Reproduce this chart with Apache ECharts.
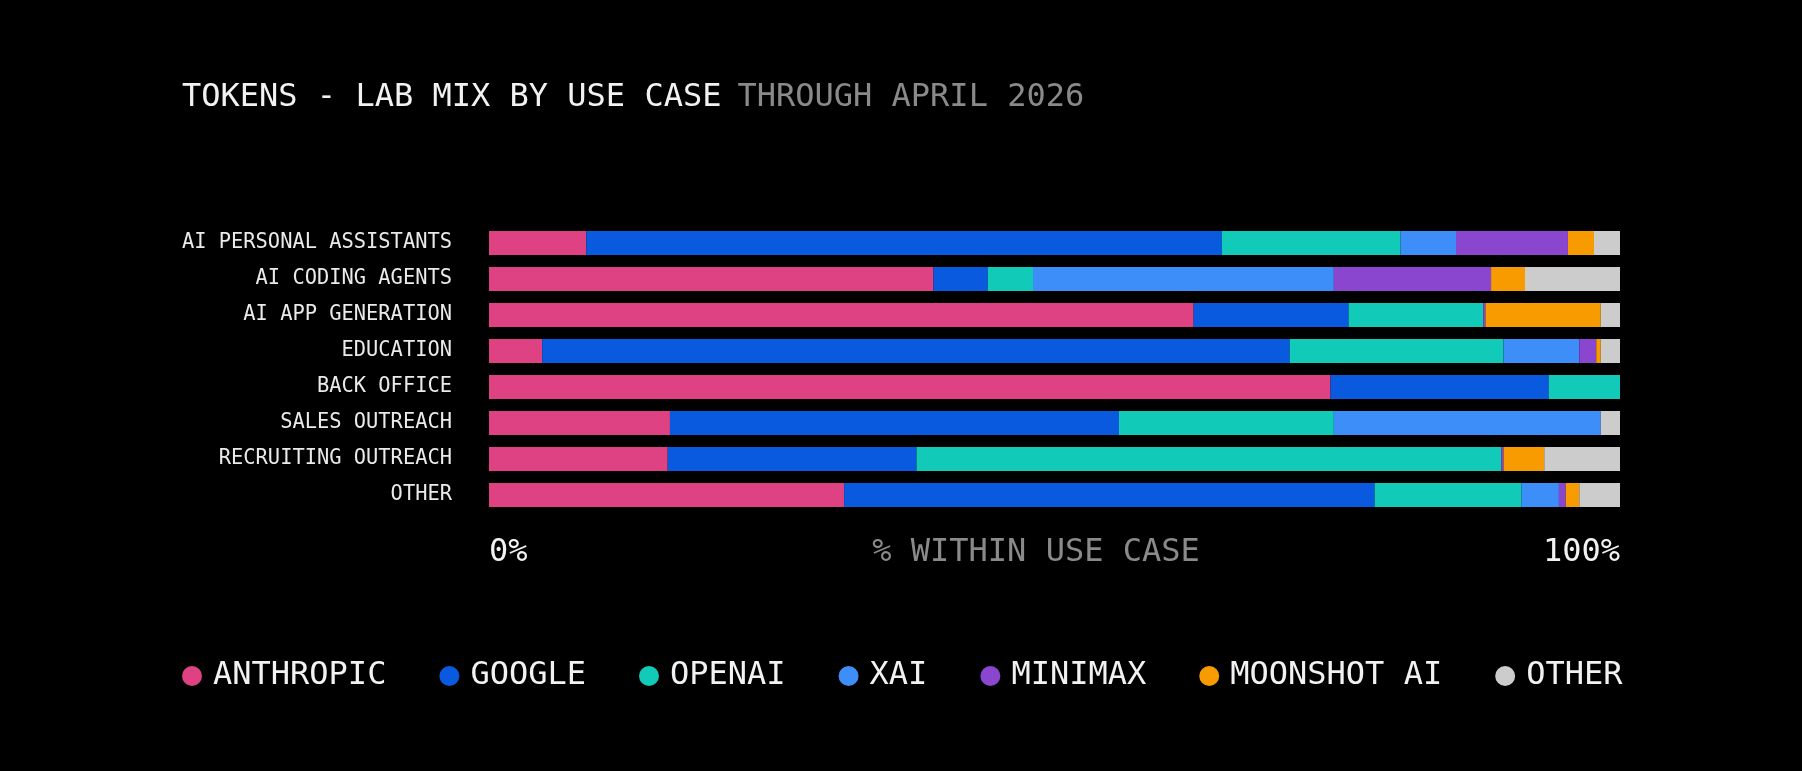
<!DOCTYPE html>
<html>
<head>
<meta charset="utf-8">
<script src="https://cdn.jsdelivr.net/npm/echarts@6/dist/echarts.min.js"></script>
<style>
  html, body { margin: 0; padding: 0; background: #000; }
  #chart { width: 1802px; height: 771px; }
</style>
</head>
<body>
<div id="chart"></div>
<script>
// use cases, top to bottom
const useCases = ['AI PERSONAL ASSISTANTS', 'AI CODING AGENTS', 'AI APP GENERATION', 'EDUCATION',
  'BACK OFFICE', 'SALES OUTREACH', 'RECRUITING OUTREACH', 'OTHER']

// % of tokens within each use case
const anthropic = [8.6, 39.3, 62.3, 4.7, 74.4, 16.0, 15.8, 31.4]
const google = [56.2, 4.8, 13.7, 66.1, 19.3, 39.7, 22.0, 46.9]
const openai = [15.8, 4.0, 11.9, 18.9, 6.3, 19.0, 51.7, 13.0]
const xai = [4.9, 26.6, 0, 6.7, 0, 23.6, 0, 3.3]
const minimax = [9.9, 13.9, 0.2, 1.5, 0, 0, 0.2, 0.6]
const moonshot = [2.3, 3.0, 10.2, 0.4, 0, 0, 3.6, 1.2]
const other = [2.3, 8.4, 1.7, 1.7, 0, 1.7, 6.7, 3.6]

const labs = ['ANTHROPIC', 'GOOGLE', 'OPENAI', 'XAI', 'MINIMAX', 'MOONSHOT AI', 'OTHER']
const labValues = [anthropic, google, openai, xai, minimax, moonshot, other]
const labColors = ['#DE4283', '#0A5AE0', '#12CAB8', '#3E8EFA', '#8A46CF', '#F89B00', '#CCCCCC']

const xTicks = ['0%', '100%']

const FONT = '"DejaVu Sans Mono", "Liberation Mono", monospace'

let chart = echarts.init(document.getElementById('chart'))

chart.setOption({
  backgroundColor: '#000',
  animation: false,
  textStyle: { fontFamily: FONT },
  title: {
    left: 182,
    top: 82,
    padding: 0,
    text: '{a|TOKENS - LAB MIX BY USE CASE}{b|THROUGH APRIL 2026}',
    textStyle: {
      fontWeight: 'normal',
      rich: {
        a: { color: '#F2F2F2', fontSize: 32, fontFamily: FONT, fontWeight: 'normal' },
        b: { color: '#8A8A8A', fontSize: 32, fontFamily: FONT, fontWeight: 'normal', padding: [0, 0, 0, 16] }
      }
    }
  },
  // axis caption, centred between the 0% and 100% labels
  graphic: [{
    type: 'text',
    x: 1036,
    y: 553,
    style: {
      text: '% WITHIN USE CASE',
      fill: '#8A8A8A',
      font: '32px ' + FONT,
      textAlign: 'center',
      textVerticalAlign: 'middle'
    }
  }],
  legend: {
    left: 182,
    top: 659,
    padding: 0,
    itemWidth: 20,
    itemHeight: 20,
    itemGap: 53,
    icon: 'circle',
    selectedMode: false,
    textStyle: {
      color: '#F2F2F2',
      fontSize: 32,
      fontFamily: FONT,
      lineHeight: 34,
      padding: [0, 0, 0, 6]
    },
    data: labs
  },
  grid: {
    left: 489,
    right: 182,
    top: 225,
    bottom: 258
  },
  xAxis: {
    type: 'value',
    min: 0,
    max: 100,
    interval: 100,
    splitLine: { show: false },
    axisLine: { show: false },
    axisTick: { show: false },
    axisLabel: {
      color: '#F2F2F2',
      fontSize: 32,
      fontFamily: FONT,
      lineHeight: 32,
      margin: 24,
      alignMinLabel: 'left',
      alignMaxLabel: 'right',
      formatter: function (v) {
        return v === 0 ? xTicks[0] : xTicks[1]
      }
    }
  },
  yAxis: {
    type: 'category',
    inverse: true,
    data: useCases,
    axisLine: { show: false },
    axisTick: { show: false },
    axisLabel: {
      color: '#EAEAEA',
      fontSize: 20.4,
      fontFamily: FONT,
      margin: 37
    }
  },
  series: labs.map((name, i) => ({
    name: name,
    type: 'bar',
    stack: 'total',
    barWidth: 24,
    itemStyle: { color: labColors[i] },
    data: labValues[i]
  }))
})
</script>
</body>
</html>
